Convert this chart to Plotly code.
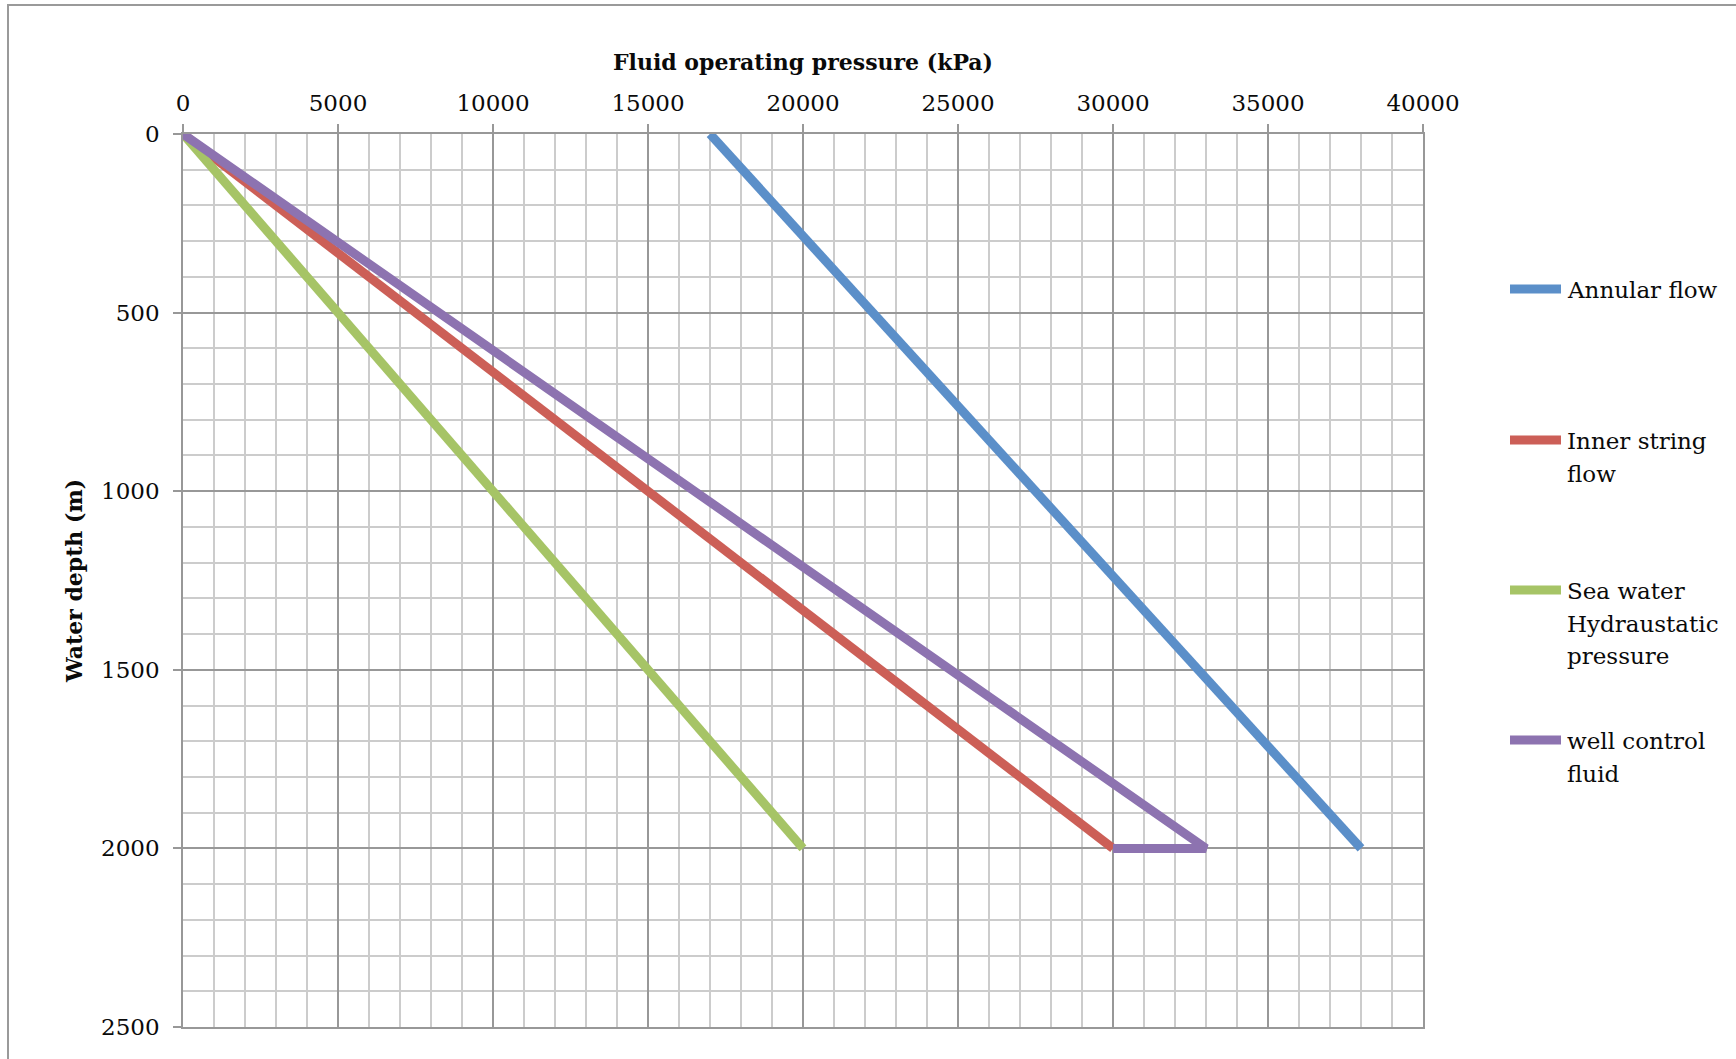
import plotly.graph_objects as go

# Pressure (kPa) versus water depth (m) for each fluid case
series_names = ["Annular flow", "Inner string flow", "Sea water Hydraustatic pressure", "well control fluid"]
legend_labels = ["Annular flow", "Inner string<br>flow", "Sea water<br>Hydraustatic<br>pressure", "well control<br>fluid"]
colors = ["#5B8FC9", "#CC5F57", "#A6C466", "#8D73B0"]

annular_pressure = [17000, 38000]
annular_depth = [0, 2000]

inner_pressure = [0, 30000]
inner_depth = [0, 2000]

seawater_pressure = [0, 20000]
seawater_depth = [0, 2000]

wellcontrol_pressure = [0, 33000, 30000]
wellcontrol_depth = [0, 2000, 2000]

x_series = [annular_pressure, inner_pressure, seawater_pressure, wellcontrol_pressure]
y_series = [annular_depth, inner_depth, seawater_depth, wellcontrol_depth]

W, H = 1736, 1059
ML, MR, MT, MB = 183, 313, 134, 32
PW, PH = W - ML - MR, H - MT - MB

FONT = "DejaVu Serif"
TEXT = "#0A0A0A"
MAJOR = "#989898"
MINOR = "#CCCCCC"

fig = go.Figure()
for name, xs, ys, c in zip(series_names, x_series, y_series, colors):
    fig.add_trace(go.Scatter(x=xs, y=ys, name=name, mode="lines",
                             line=dict(color=c, width=9), showlegend=False))


def px_x(p):
    return (p - ML) / PW


def px_y(p):
    return (H - MB - p) / PH


shapes = [
    # outer chart frame
    dict(type="rect", xref="paper", yref="paper",
         x0=px_x(8), x1=px_x(1745), y0=px_y(1070), y1=px_y(5),
         line=dict(color="#9A9A9A", width=2), fillcolor="rgba(0,0,0,0)", layer="below"),
]

# hand-placed legend: a line sample followed by the (wrapped) series label
annotations = []
legend_rows = [289, 440, 590, 740]
LINE_GAP = 32.5
for lbl, c, ry in zip(legend_labels, colors, legend_rows):
    shapes.append(dict(type="line", xref="paper", yref="paper",
                       x0=px_x(1510), x1=px_x(1561), y0=px_y(ry), y1=px_y(ry),
                       line=dict(color=c, width=9)))
    for i, part in enumerate(lbl.split("<br>")):
        annotations.append(dict(xref="paper", yref="paper", x=px_x(1565), y=px_y(ry + 1 + i * LINE_GAP),
                                xanchor="left", yanchor="middle", align="left", showarrow=False,
                                text=part, font=dict(family=FONT, size=23, color=TEXT)))

fig.update_layout(
    width=W, height=H,
    margin=dict(l=ML, r=MR, t=MT, b=MB),
    paper_bgcolor="white", plot_bgcolor="white",
    font=dict(family=FONT, size=23, color=TEXT),
    showlegend=False,
    shapes=shapes,
    annotations=annotations,
)

fig.update_xaxes(
    side="top", range=[0, 40000], dtick=5000, tick0=0, tickformat="d",
    showgrid=True, gridcolor=MAJOR, gridwidth=1.5,
    minor=dict(dtick=1000, showgrid=True, gridcolor=MINOR, gridwidth=1.5, ticks=""),
    ticks="outside", ticklen=8, tickcolor=MAJOR, tickwidth=1.5,
    showline=True, linecolor=MAJOR, linewidth=1.5, mirror=True,
    zeroline=False, ticklabelstandoff=4,
    title=dict(text="<b>Fluid operating pressure (kPa)</b>", standoff=13,
               font=dict(family=FONT, size=22, color=TEXT)),
)
fig.update_yaxes(
    range=[2500, 0], dtick=500, tick0=0, tickformat="d",
    showgrid=True, gridcolor=MAJOR, gridwidth=1.5,
    minor=dict(dtick=100, showgrid=True, gridcolor=MINOR, gridwidth=1.5, ticks=""),
    ticks="outside", ticklen=8, tickcolor=MAJOR, tickwidth=1.5,
    showline=True, linecolor=MAJOR, linewidth=1.5, mirror=True,
    zeroline=False, ticklabelstandoff=9,
    title=dict(text="<b>Water depth (m)</b>", standoff=12,
               font=dict(family=FONT, size=22, color=TEXT)),
)

fig.write_html("out.html")
